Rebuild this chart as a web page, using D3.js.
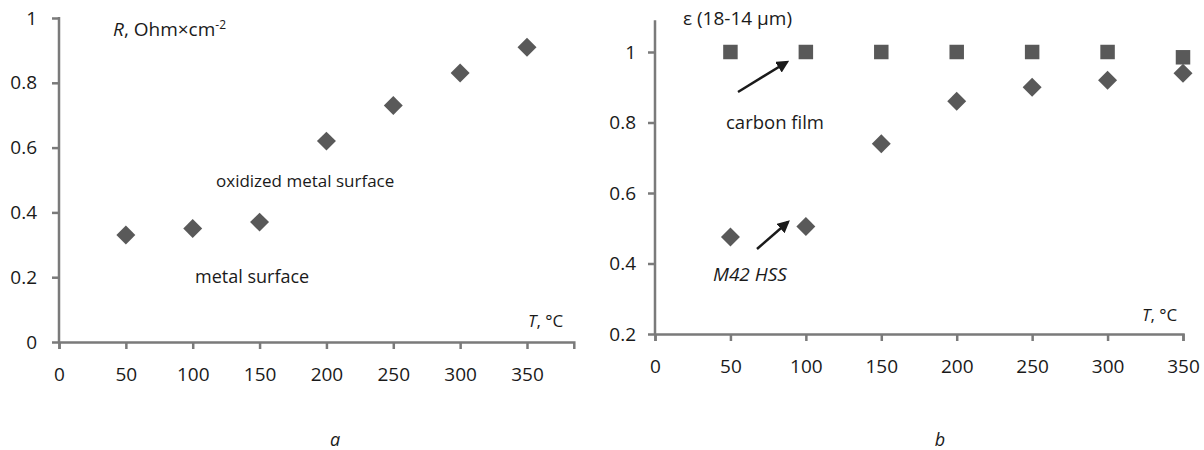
<!DOCTYPE html>
<html><head><meta charset="utf-8">
<script src="https://cdn.jsdelivr.net/npm/d3@7"></script>
<style>
body{margin:0;background:#fff;}
text{font-family:"Open Sans",sans-serif;fill:#1a1a1a;}
</style></head><body>
<svg id="c" width="1204" height="450"></svg>
<script>
// Panel a: resistance vs temperature
const tempsA = [50, 100, 150, 200, 250, 300, 350];
const resistA = [0.33, 0.35, 0.37, 0.62, 0.73, 0.83, 0.91];
const xTicksA = [0, 50, 100, 150, 200, 250, 300, 350];
const yTicksA = [0, 0.2, 0.4, 0.6, 0.8, 1];
// Panel b: emissivity vs temperature
const tempsB = [50, 100, 150, 200, 250, 300, 350];
const carbonFilm = [1.0, 1.0, 1.0, 1.0, 1.0, 1.0, 0.985];
const m42hss = [0.475, 0.505, 0.74, 0.86, 0.90, 0.92, 0.94];
const xTicksB = [0, 50, 100, 150, 200, 250, 300, 350];
const yTicksB = [0.2, 0.4, 0.6, 0.8, 1];

const svg = d3.select("#c");
const axisColor = "#7a7a7a";
const markColor = "#595959";

function styleAxis(g){
  g.select(".domain").attr("stroke", axisColor).attr("stroke-width", 2.5);
  g.selectAll(".tick line").attr("stroke", axisColor).attr("stroke-width", 2.5);
  g.selectAll(".tick text").attr("fill", "#1a1a1a").style("font-family","Open Sans").style("font-size","19px");
}

// ---------- Panel a ----------
const xA = d3.scaleLinear().domain([0, 385]).range([59, 59 + 385 * (468/350)]);
const yA = d3.scaleLinear().domain([0, 1]).range([342, 18]);

const gxA = svg.append("g").attr("transform", `translate(0,${yA(0)})`)
  .call(d3.axisBottom(xA).tickValues(xTicksA).tickFormat(d3.format("d")).tickSizeOuter(0).tickSize(7).tickPadding(19));
styleAxis(gxA);
const gyA = svg.append("g").attr("transform", `translate(${xA(0)},0)`)
  .call(d3.axisLeft(yA).tickValues(yTicksA).tickFormat(d => d === 0 || d === 1 ? d : d3.format(".1f")(d)).tickSizeOuter(0).tickSize(7).tickPadding(15));
styleAxis(gyA);
gyA.select(".domain").attr("d", `M0,${yA(0)}V${yA(1) - 1}`);

svg.append("g").selectAll("path").data(tempsA).join("path")
  .attr("d", d3.symbol(d3.symbolSquare, 180))
  .attr("transform", (d, i) => `translate(${xA(d)},${yA(resistA[i])}) rotate(45)`)
  .attr("fill", markColor);

const tA = svg.append("text").attr("x", 113).attr("y", 36).style("font-size", "19px");
tA.append("tspan").style("font-style", "italic").text("R");
tA.append("tspan").text(", Ohm×cm");
tA.append("tspan").attr("dy", -7).style("font-size", "12px").text("-2");

const tTA = svg.append("text").attr("x", 528).attr("y", 327).style("font-size", "17px");
tTA.append("tspan").style("font-style", "italic").text("T");
tTA.append("tspan").text(", °C");

svg.append("text").attr("x", 216).attr("y", 187).style("font-size", "17px").text("oxidized metal surface");
svg.append("text").attr("x", 195).attr("y", 283).style("font-size", "18px").text("metal surface");
svg.append("text").attr("x", 335).attr("y", 446).attr("text-anchor","middle").style("font-size", "18px").style("font-style","italic").text("a");

// ---------- Panel b ----------
const xB = d3.scaleLinear().domain([0, 350]).range([655, 1183]);
const yB = d3.scaleLinear().domain([0.2, 1]).range([334, 52]);

const gxB = svg.append("g").attr("transform", `translate(0,${yB(0.2)})`)
  .call(d3.axisBottom(xB).tickValues(xTicksB).tickFormat(d3.format("d")).tickSizeOuter(0).tickSize(7).tickPadding(19));
styleAxis(gxB);
const gyB = svg.append("g").attr("transform", `translate(${xB(0)},0)`)
  .call(d3.axisLeft(yB).tickValues(yTicksB).tickFormat(d => d === 1 ? d : d3.format(".1f")(d)).tickSizeOuter(0).tickSize(7).tickPadding(12));
styleAxis(gyB);
gyB.select(".domain").attr("d", `M0,${yB(0.2)}V${yB(1.09)}`);

svg.append("g").selectAll("path").data(tempsB).join("path")
  .attr("d", d3.symbol(d3.symbolSquare, 210))
  .attr("transform", (d, i) => `translate(${xB(d)},${yB(carbonFilm[i])})`)
  .attr("fill", markColor);
svg.append("g").selectAll("path").data(tempsB).join("path")
  .attr("d", d3.symbol(d3.symbolSquare, 180))
  .attr("transform", (d, i) => `translate(${xB(d)},${yB(m42hss[i])}) rotate(45)`)
  .attr("fill", markColor);

svg.append("text").attr("x", 683).attr("y", 25).style("font-size", "19px").text("ε (18-14 μm)");
const tTB = svg.append("text").attr("x", 1142).attr("y", 321).style("font-size", "17px");
tTB.append("tspan").style("font-style", "italic").text("T");
tTB.append("tspan").text(", °C");

svg.append("text").attr("x", 726).attr("y", 129).style("font-size", "18.5px").text("carbon film");
svg.append("text").attr("x", 713).attr("y", 281).style("font-size", "19px").style("font-style","italic").text("M42 HSS");
svg.append("text").attr("x", 940).attr("y", 446).attr("text-anchor","middle").style("font-size", "18px").style("font-style","italic").text("b");

// arrows
svg.append("defs").append("marker").attr("id","ah").attr("viewBox","0 0 10 10")
  .attr("refX", 8).attr("refY", 5).attr("markerWidth", 5).attr("markerHeight", 5)
  .attr("orient","auto").append("path").attr("d","M0,0L10,5L0,10z").attr("fill","#1a1a1a");
svg.append("line").attr("x1",738).attr("y1",92).attr("x2",787).attr("y2",62)
  .attr("stroke","#1a1a1a").attr("stroke-width",2.5).attr("marker-end","url(#ah)");
svg.append("line").attr("x1",757).attr("y1",249).attr("x2",788).attr("y2",222)
  .attr("stroke","#1a1a1a").attr("stroke-width",2.5).attr("marker-end","url(#ah)");
</script>
</body></html>
